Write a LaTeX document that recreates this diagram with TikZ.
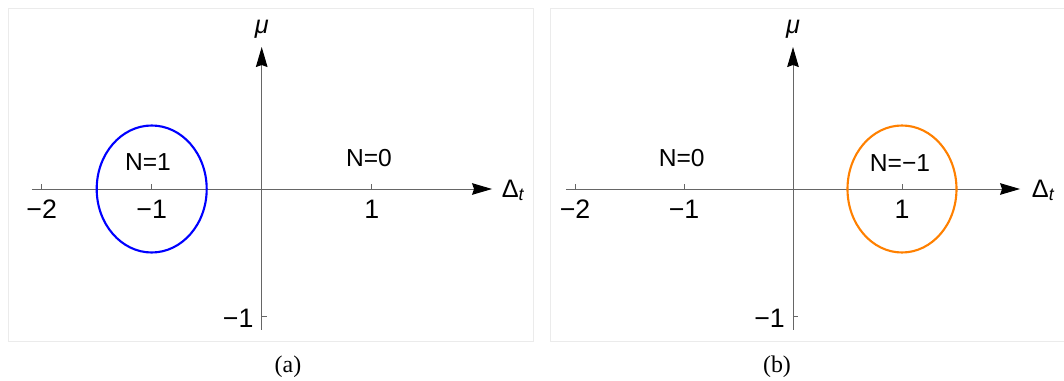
\documentclass[tikz,border=0pt]{standalone}
\usepackage{fontspec}
\setmainfont{Liberation Serif}
\setsansfont{Liberation Sans}
\usepackage{xcolor}
\usetikzlibrary{arrows.meta}

\definecolor{loopblue}{rgb}{0,0,1}
\definecolor{looporange}{rgb}{1,0.5,0}

\begin{document}
\begin{tikzpicture}[
    axis/.style={draw=black!60, line width=0.7pt},
    axisarrow/.style={axis, -{Stealth[length=0.5cm, width=0.29cm, inset=0.05cm, color=black]}},
    tickmark/.style={draw=black!60, line width=0.6pt},
    ticklabel/.style={font=\sffamily\fontsize{19}{19}\selectfont, inner sep=0pt},
    regionlabel/.style={font=\sffamily\fontsize{17.5}{17.5}\selectfont, inner sep=0pt},
    axislabel/.style={font=\sffamily\fontsize{18}{18}\selectfont, inner sep=0pt},
    caption/.style={font=\rmfamily\fontsize{17}{17}\selectfont, inner sep=0pt},
    panel/.style={draw=black!8, line width=0.6pt},
    contour/.style={line width=1.5pt}
]
    \useasboundingbox (0,0) rectangle (26.6,-9.525);

    % panel frames
    \draw[panel] (0.2,-0.2) rectangle (13.325,-8.525);
    \draw[panel] (13.75,-0.2) rectangle (26.8,-8.525);

    % left plot
    \begin{scope}[shift={(6.5425,-4.725)}, x=2.75cm, y=3.175cm]
        \coordinate (aW) at (-2.09,0);
        \coordinate (aE) at (2.094,0);
        \coordinate (aS) at (0,-1.11);
        \coordinate (aN) at (0,1.118);
        \draw[axisarrow] (aW) -- (aE);
        \draw[axisarrow] (aS) -- (aN);

        \draw[tickmark] (-2,0) -- ++(0,0.12cm);
        \draw[tickmark] (-1,0) -- ++(0,0.12cm);
        \draw[tickmark] (0,0)  -- ++(0,0.12cm);
        \draw[tickmark] (1,0)  -- ++(0,0.12cm);
        \draw[tickmark] (0,0)  -- ++(0.12cm,0);
        \draw[tickmark] (0,-1) -- ++(0.12cm,0);

        \node[ticklabel]              (aXm2) at (-2,-0.16) {−2};
        \node[ticklabel]              (aXm1) at (-1,-0.16) {−1};
        \node[ticklabel]              (aXp1) at (1,-0.16)  {1};
        \node[ticklabel, anchor=east, xshift=-0.2cm] (aYm1) at (0,-1.016) {−1};

        \node[axislabel, anchor=base]      (aMu)    at (0,1.228)     {\textit{μ}};
        \node[axislabel, anchor=base west] (aDelta) at (2.18,-0.063) {Δ\textsubscript{\textit{t}}};

        \draw[contour, loopblue] (-1,0) circle [x radius=0.5, y radius=0.5];
        \node[regionlabel] (aIn)  at (-1.034,0.213) {N=1};
        \node[regionlabel] (aOut) at (0.975,0.244)  {N=0};
    \end{scope}
    \node[caption] (capA) at (7.2,-9.175) {(a)};

    % right plot
    \begin{scope}[shift={(19.825,-4.725)}, x=2.725cm, y=3.175cm]
        \coordinate (bW) at (-2.083,0);
        \coordinate (bE) at (2.083,0);
        \coordinate (bS) at (0,-1.11);
        \coordinate (bN) at (0,1.118);
        \draw[axisarrow] (bW) -- (bE);
        \draw[axisarrow] (bS) -- (bN);

        \draw[tickmark] (-2,0) -- ++(0,0.12cm);
        \draw[tickmark] (-1,0) -- ++(0,0.12cm);
        \draw[tickmark] (0,0)  -- ++(0,0.12cm);
        \draw[tickmark] (1,0)  -- ++(0,0.12cm);
        \draw[tickmark] (0,0)  -- ++(0.12cm,0);
        \draw[tickmark] (0,-1) -- ++(0.12cm,0);

        \node[ticklabel]              (bXm2) at (-2,-0.16) {−2};
        \node[ticklabel]              (bXm1) at (-1,-0.16) {−1};
        \node[ticklabel]              (bXp1) at (1,-0.16)  {1};
        \node[ticklabel, anchor=east, xshift=-0.2cm] (bYm1) at (0,-1.016) {−1};

        \node[axislabel, anchor=base]      (bMu)    at (0,1.228)    {\textit{μ}};
        \node[axislabel, anchor=base west] (bDelta) at (2.19,-0.063) {Δ\textsubscript{\textit{t}}};

        \draw[contour, looporange] (1,0) circle [x radius=0.5, y radius=0.5];
        \node[regionlabel] (bOut) at (-1.021,0.244) {N=0};
        \node[regionlabel] (bIn)  at (0.982,0.205)  {N=−1};
    \end{scope}
    \node[caption] (capB) at (19.425,-9.175) {(b)};
\end{tikzpicture}
\end{document}
